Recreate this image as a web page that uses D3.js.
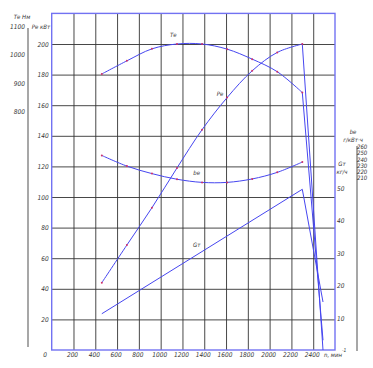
<!DOCTYPE html>
<html>
<head>
<meta charset="utf-8">
<script src="https://cdn.jsdelivr.net/npm/d3@7"></script>
<style>
  body { margin: 0; background: #fff; }
  text { font-family: "Liberation Sans Narrow", "DejaVu Sans Condensed", sans-serif; font-style: italic; fill: #333; }
</style>
</head>
<body>
<svg id="chart" width="373" height="368"></svg>
<script>
// engine speed points, min^-1
const speeds = [460, 690, 920, 1150, 1380, 1610, 1840, 2070, 2300]
// effective torque, N*m
const torque = [932, 978, 1020, 1037, 1037, 1019, 984, 940, 867]
// effective power, kW
const power = [44, 68.6, 93, 119, 144, 165, 182.5, 194.5, 200]
// specific fuel consumption, g/kWh
const specFuel = [246, 229, 217, 208, 203, 203, 208.5, 219, 235.5]
// hourly fuel consumption, kg/h (drawn straight)
const fuelSpeeds = [460, 2300]
const fuelRate = [11.4, 49.6]
// governor branch: speed at idle and end values
const idleSpeed = 2490
const idleTorque = 0
const idlePower = 0
const idleFuel = 15

const nTicks = d3.range(200, 2500, 200)
const peTicks = d3.range(20, 201, 20)
const teTicks = [800, 900, 1000, 1100]
const beTicks = [210, 220, 230, 240, 250, 260]
const gtTicks = [10, 20, 30, 40, 50]

const svg = d3.select('#chart')
const fmt = d3.format('d')

var x = d3.scaleLinear().domain([0, 2600]).range([51.7, 335])
var yPe = d3.scaleLinear().domain([0, 220]).range([350, 13.4])
var yTe = d3.scaleLinear().domain([800, 1100]).range([111.7, 26])
var yBe = d3.scaleLinear().domain([210, 260]).range([178, 146.7])
var yGt = d3.scaleLinear().domain([10, 50]).range([318.3, 188])

const blue = '#4646f0'
const frameBlue = '#7272f2'

// grid
svg.append('g')
  .attr('transform', 'translate(0,' + yPe(0) + ')')
  .call(d3.axisBottom(x).tickValues(nTicks).tickSize(-(yPe(0) - yPe(220))).tickFormat(''))
  .call(g => g.select('.domain').remove())
  .call(g => g.selectAll('line').attr('stroke', '#333').attr('stroke-width', 0.9))

svg.append('g')
  .attr('transform', 'translate(' + x(0) + ',0)')
  .call(d3.axisLeft(yPe).tickValues(peTicks).tickSize(-(x(2600) - x(0))).tickFormat(''))
  .call(g => g.select('.domain').remove())
  .call(g => g.selectAll('line').attr('stroke', '#333').attr('stroke-width', 0.9))

// frame
svg.append('rect')
  .attr('x', x(0)).attr('y', yPe(220))
  .attr('width', x(2600) - x(0)).attr('height', yPe(0) - yPe(220))
  .attr('fill', 'none').attr('stroke', frameBlue).attr('stroke-width', 1.4)

// tick labels: Pe
svg.append('g')
  .attr('transform', 'translate(' + x(0) + ',0)')
  .call(d3.axisLeft(yPe).tickValues(peTicks).tickFormat(fmt).tickSize(0).tickPadding(3))
  .call(g => g.select('.domain').remove())
  .selectAll('text').attr('font-size', 6.5).attr('fill', '#333')

// tick labels: n
svg.append('g')
  .attr('transform', 'translate(0,' + yPe(0) + ')')
  .call(d3.axisBottom(x).tickValues(nTicks).tickFormat(fmt).tickSize(0).tickPadding(2))
  .call(g => g.select('.domain').remove())
  .selectAll('text').attr('font-size', 6.5).attr('fill', '#333').attr('dx', -1.5)

svg.append('text').attr('x', 45).attr('y', 357).attr('font-size', 6.5).attr('text-anchor', 'middle').text('0')
svg.append('text').attr('x', 324).attr('y', 357).attr('font-size', 6).text('n, мин')
svg.append('text').attr('x', 342).attr('y', 352).attr('font-size', 5).text('-1')

// Te axis on the far left
svg.append('line').attr('x1', 28).attr('x2', 28).attr('y1', 28).attr('y2', 347)
  .attr('stroke', '#8a8a8a').attr('stroke-width', 1.5)
svg.append('g')
  .attr('transform', 'translate(28,0)')
  .call(d3.axisLeft(yTe).tickValues(teTicks).tickFormat(fmt).tickSize(0).tickPadding(3))
  .call(g => g.select('.domain').remove())
  .selectAll('text').attr('font-size', 6.5).attr('fill', '#333')
svg.append('text').attr('x', 22).attr('y', 19).attr('font-size', 6).attr('text-anchor', 'middle').text('Tе Нм')
svg.append('text').attr('x', 41).attr('y', 28.5).attr('font-size', 6).attr('text-anchor', 'middle').text('Pе кВт')

// be axis on the far right
svg.append('line').attr('x1', 357).attr('x2', 357).attr('y1', 146).attr('y2', 351)
  .attr('stroke', '#8a8a8a').attr('stroke-width', 1.5)
svg.append('g')
  .attr('transform', 'translate(356,0)')
  .call(d3.axisRight(yBe).tickValues(beTicks).tickFormat(fmt).tickSize(0).tickPadding(1))
  .call(g => g.select('.domain').remove())
  .selectAll('text').attr('font-size', 6).attr('fill', '#333')
svg.append('text').attr('x', 353).attr('y', 133.5).attr('font-size', 6).attr('text-anchor', 'middle').text('bе')
svg.append('text').attr('x', 353).attr('y', 141.5).attr('font-size', 6).attr('text-anchor', 'middle').text('г/кВт·ч')

// Gt axis next to the frame
svg.append('g')
  .attr('transform', 'translate(335,0)')
  .call(d3.axisRight(yGt).tickValues(gtTicks).tickFormat(fmt).tickSize(0).tickPadding(2))
  .call(g => g.select('.domain').remove())
  .selectAll('text').attr('font-size', 6.5).attr('fill', '#333')
svg.append('text').attr('x', 342).attr('y', 166).attr('font-size', 6).attr('text-anchor', 'middle').text('Gт')
svg.append('text').attr('x', 342).attr('y', 174).attr('font-size', 6).attr('text-anchor', 'middle').text('кг/ч')

// curves
function drawCurve (values, yScale, idleValue) {
  var pts = speeds.map((n, i) => [x(n), yScale(values[i])])
  svg.append('path')
    .attr('d', d3.line().curve(d3.curveCatmullRom)(pts))
    .attr('fill', 'none').attr('stroke', blue).attr('stroke-width', 1)
  if (idleValue !== null) {
    svg.append('path')
      .attr('d', d3.line()([pts[pts.length - 1], [x(idleSpeed), yScale(idleValue)]]))
      .attr('fill', 'none').attr('stroke', blue).attr('stroke-width', 1)
  }
  svg.append('g').selectAll('circle')
    .data(pts)
    .join('circle')
    .attr('cx', d => d[0]).attr('cy', d => d[1]).attr('r', 1)
    .attr('fill', '#d0306a')
}

drawCurve(torque, yTe, idleTorque)
drawCurve(power, yPe, idlePower)
drawCurve(specFuel, yBe, null)

var gtPts = fuelSpeeds.map((n, i) => [x(n), yGt(fuelRate[i])])
gtPts.push([x(idleSpeed), yGt(idleFuel)])
svg.append('path')
  .attr('d', d3.line()(gtPts))
  .attr('fill', 'none').attr('stroke', blue).attr('stroke-width', 1)

// curve names
svg.append('text').attr('x', x(1115)).attr('y', yTe(1060)).attr('font-size', 6).attr('text-anchor', 'middle').text('Tе')
svg.append('text').attr('x', x(1545)).attr('y', yPe(166)).attr('font-size', 6).attr('text-anchor', 'middle').text('Pе')
svg.append('text').attr('x', x(1330)).attr('y', yBe(215)).attr('font-size', 6).attr('text-anchor', 'middle').text('bе')
svg.append('text').attr('x', x(1330)).attr('y', yGt(32)).attr('font-size', 6).attr('text-anchor', 'middle').text('Gт')
</script>
</body>
</html>
